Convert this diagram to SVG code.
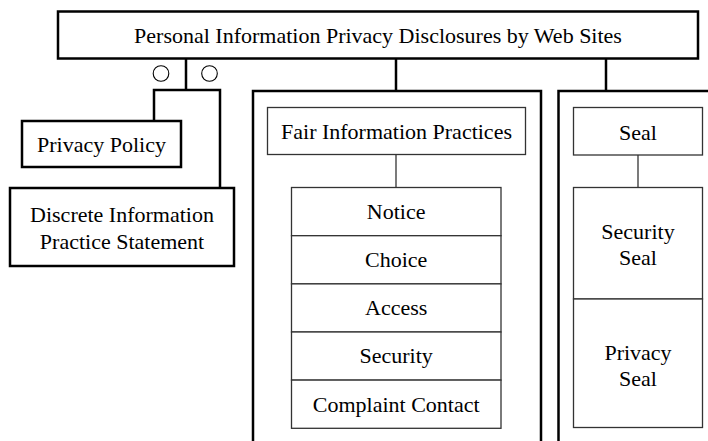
<svg xmlns="http://www.w3.org/2000/svg" width="708" height="441" viewBox="0 0 708 441">
<style>
text{font-family:"Liberation Serif","Times New Roman",serif;font-size:22px;fill:#000;text-anchor:middle}
.thick{fill:#fff;stroke:#000;stroke-width:2.5}
.thin{fill:#fff;stroke:#333;stroke-width:1.3}
.frame{fill:none;stroke:#000;stroke-width:2.5}
.conn{fill:none;stroke:#000;stroke-width:2.5}
.connthin{fill:none;stroke:#333;stroke-width:1.3}
.circ{fill:#fff;stroke:#000;stroke-width:1.1}
</style>
<rect width="708" height="441" fill="#fff"/>
<g id="connectors">
<path class="conn" d="M186,59 V90 M154,121 V90 H220 V188"/>
<path class="conn" d="M396,59 V91"/>
<path class="conn" d="M606,59 V91"/>
<path class="connthin" d="M396,155 V188"/>
<path class="connthin" d="M638,155 V188"/>
<circle class="circ" cx="161" cy="73.5" r="7.8"/>
<circle class="circ" cx="209.5" cy="73.5" r="7.8"/>
</g>
<g id="root">
<rect class="thick" x="58" y="11.5" width="640" height="47"/>
<text x="378" y="42.5">Personal Information Privacy Disclosures by Web Sites</text>
</g>
<g id="privacy-policy">
<rect class="thick" x="22" y="121" width="159" height="46"/>
<text x="101.5" y="152">Privacy Policy</text>
</g>
<g id="dips">
<rect class="thick" x="10" y="188" width="224" height="78"/>
<text x="122" y="222">Discrete Information</text>
<text x="122" y="248.5">Practice Statement</text>
</g>
<g id="fip-container">
<path class="frame" d="M253,445 V91 H541 V445"/>
</g>
<g id="fip">
<rect class="thin" x="267.5" y="107.5" width="258" height="47"/>
<text x="396.5" y="138.5">Fair Information Practices</text>
</g>
<g id="fip-list">
<rect class="thin" x="291.5" y="187.5" width="209.5" height="48.2"/>
<rect class="thin" x="291.5" y="235.7" width="209.5" height="48.2"/>
<rect class="thin" x="291.5" y="283.9" width="209.5" height="48.1"/>
<rect class="thin" x="291.5" y="332" width="209.5" height="48.1"/>
<rect class="thin" x="291.5" y="380.1" width="209.5" height="48.2"/>
<text x="396.2" y="218.5">Notice</text>
<text x="396.2" y="267">Choice</text>
<text x="396.2" y="315">Access</text>
<text x="396.2" y="363.3">Security</text>
<text x="396.2" y="411.5">Complaint Contact</text>
</g>
<g id="seal-container">
<path class="frame" d="M558.5,445 V91 H712"/>
</g>
<g id="seal">
<rect class="thin" x="573.5" y="107.5" width="129" height="47.5"/>
<text x="638" y="140">Seal</text>
</g>
<g id="seal-list">
<rect class="thin" x="573.5" y="187.5" width="129" height="111.5"/>
<rect class="thin" x="573.5" y="299" width="129" height="128.5"/>
<text x="638" y="238.5">Security</text>
<text x="638" y="265">Seal</text>
<text x="638" y="360">Privacy</text>
<text x="638" y="385.5">Seal</text>
</g>
</svg>
